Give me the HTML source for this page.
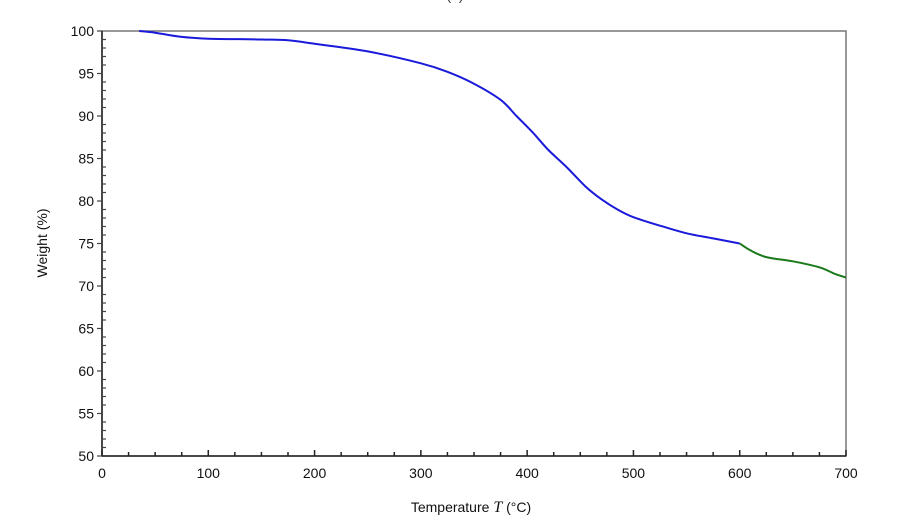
<!DOCTYPE html>
<html><head><meta charset="utf-8"><style>
body{margin:0;background:#fff;width:900px;height:525px;overflow:hidden}
svg text{font-family:"Liberation Sans",sans-serif}
</style></head><body>
<svg id="chart" width="900" height="525" xmlns="http://www.w3.org/2000/svg">
<text x="455" y="0" font-size="14" fill="#333" text-anchor="middle">(a)</text>
<g id="plot"></g>
<text x="471" y="512" font-size="14" text-anchor="middle" fill="#111">Temperature <tspan font-family="Liberation Serif" font-style="italic" font-size="16">T</tspan> (°C)</text>
<text transform="translate(47,243) rotate(-90)" font-size="14" text-anchor="middle" fill="#111">Weight  (%)</text>
</svg>
<script>
const xTicks=[0,100,200,300,400,500,600,700];
const yTicks=[50,55,60,65,70,75,80,85,90,95,100];
const blueT=[35,50,75,100,150,175,200,250,300,325,350,375,390,405,420,437,455,470,485,500,525,550,575,600];
const blueW=[100,99.8,99.3,99.1,99.0,98.9,98.5,97.6,96.2,95.2,93.8,91.9,90.0,88.1,86.0,84.0,81.7,80.2,79.0,78.1,77.1,76.2,75.6,75.0];
const greenT=[600,610,625,650,675,690,700];
const greenW=[75.0,74.2,73.4,72.9,72.2,71.4,71.0];
const X0=102,X1=846,Y0=456,Y1=31;
const sx=v=>X0+(v-0)/700*(X1-X0);
const sy=v=>Y0-(v-50)/50*(Y0-Y1);
const NS="http://www.w3.org/2000/svg";
const g=document.getElementById('plot');
function mk(t,a){const e=document.createElementNS(NS,t);for(const k in a)e.setAttribute(k,a[k]);g.appendChild(e);return e;}
let e=mk('rect',{x:X0,y:Y1,width:X1-X0,height:Y0-Y1,fill:'none',stroke:'#777','stroke-width':1.5});


e=mk('line',{x1:X0,y1:Y1,x2:X0,y2:Y0,stroke:'#222','stroke-width':1.5});


e=mk('line',{x1:X0,y1:Y0,x2:X1,y2:Y0,stroke:'#222','stroke-width':1.5});


for(let v=0;v<=700;v+=25){const x=sx(v);const maj=v%100===0;
 e=mk('line',{x1:x,y1:Y0,x2:x,y2:Y0-(maj?6:4),stroke:'#222','stroke-width':1.5});
 
 }
xTicks.forEach(v=>{e=mk('text',{x:sx(v),y:Y0+22,'font-size':14,'text-anchor':'middle',fill:'#111'});e.textContent=v;
 
 });
for(let v=50;v<=100;v+=1){const y=sy(v);const maj=v%5===0;
 e=mk('line',{x1:X0-(maj?5:0),y1:y,x2:X0+(maj?0:4),y2:y,stroke:'#444','stroke-width':1.2});
 
 }
yTicks.forEach(v=>{e=mk('text',{x:X0-8,y:sy(v)+5,'font-size':14,'text-anchor':'end',fill:'#111'});e.textContent=v;
 
 });
function path(T,W){
 const P=T.map((t,i)=>[sx(t),sy(W[i])]);
 let d='M'+P[0][0].toFixed(1)+','+P[0][1].toFixed(1);
 for(let i=0;i<P.length-1;i++){
  const p0=P[Math.max(0,i-1)],p1=P[i],p2=P[i+1],p3=P[Math.min(P.length-1,i+2)];
  const c1=[p1[0]+(p2[0]-p0[0])/6,p1[1]+(p2[1]-p0[1])/6];
  const c2=[p2[0]-(p3[0]-p1[0])/6,p2[1]-(p3[1]-p1[1])/6];
  d+='C'+c1.map(v=>v.toFixed(1)).join(',')+' '+c2.map(v=>v.toFixed(1)).join(',')+' '+p2.map(v=>v.toFixed(1)).join(',');
 }
 return d;}
e=mk('path',{d:path(blueT,blueW),fill:'none',stroke:'#1a1adb','stroke-width':2,'stroke-linejoin':'round'});


e=mk('path',{d:path(greenT,greenW),fill:'none',stroke:'#1a7a1a','stroke-width':2,'stroke-linejoin':'round'});


</script>
</body></html>
